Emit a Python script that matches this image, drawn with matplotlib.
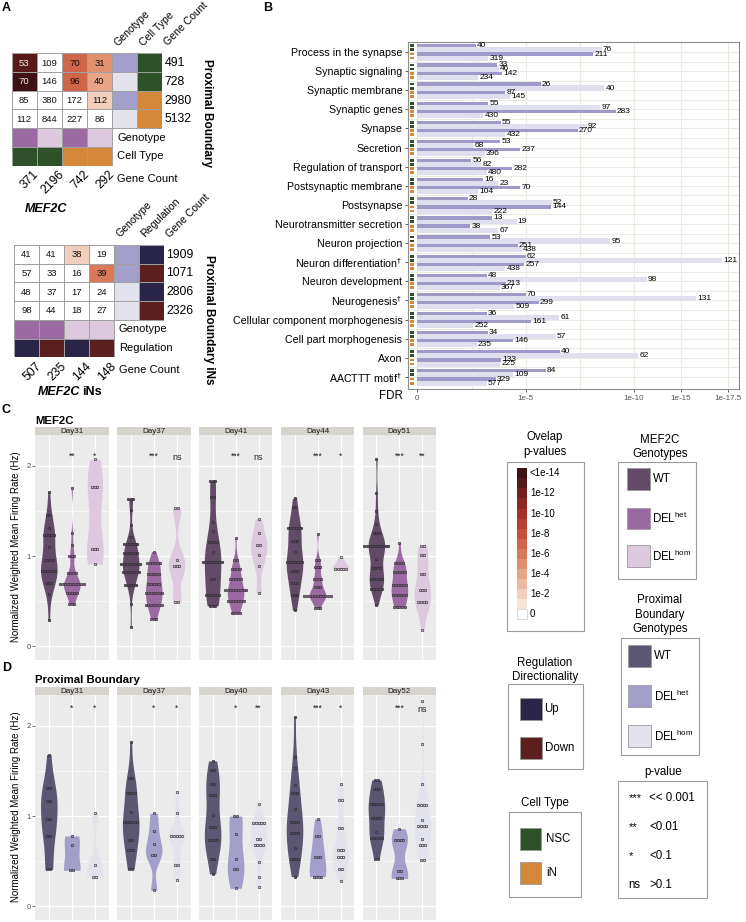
import numpy as np
import matplotlib
matplotlib.use('Agg')
import matplotlib.pyplot as plt
from matplotlib.patches import Rectangle
from matplotlib.colors import ListedColormap, BoundaryNorm
import matplotlib.transforms as mtrans

plt.rcParams['font.family'] = ['Liberation Sans', 'DejaVu Sans']

# ---------------- DATA ----------------
# Panel A (top): MEF2C (columns) vs Proximal Boundary (rows)
A1_counts = [[53, 109, 70, 31], [70, 146, 96, 40], [85, 380, 172, 112], [112, 844, 227, 86]]
A1_logp = [[13.2, 0, 7.1, 5.0], [14.5, 0, 6.8, 4.4], [0, 0, 0, 1.8], [0, 0, 0, 0]]
A1_row_geno = ['het', 'hom', 'het', 'hom']
A1_row_cell = ['NSC', 'NSC', 'iN', 'iN']
A1_row_genes = [491, 728, 2980, 5132]
A1_col_geno = ['het', 'hom', 'het', 'hom']
A1_col_cell = ['NSC', 'NSC', 'iN', 'iN']
A1_col_genes = [371, 2196, 742, 292]

# Panel A (bottom): MEF2C iNs vs Proximal Boundary iNs
A2_counts = [[41, 41, 38, 19], [57, 33, 16, 39], [48, 37, 17, 24], [98, 44, 18, 27]]
A2_logp = [[0, 0, 1.7, 0], [0, 0, 0, 6.4], [0, 0, 0, 0], [0, 0, 0, 0]]
A2_row_geno = ['het', 'het', 'hom', 'hom']
A2_row_reg = ['Up', 'Down', 'Up', 'Down']
A2_row_genes = [1909, 1071, 2806, 2326]
A2_col_geno = ['het', 'het', 'hom', 'hom']
A2_col_reg = ['Up', 'Down', 'Up', 'Down']
A2_col_genes = [507, 235, 144, 148]

# Panel B: enrichment terms; -log10(FDR) and overlap counts
terms = ['Process in the synapse', 'Synaptic signaling', 'Synaptic membrane', 'Synaptic genes',
         'Synapse', 'Secretion', 'Regulation of transport', 'Postsynaptic membrane', 'Postsynapse',
         'Neurotransmitter secretion', 'Neuron projection', r'Neuron differentiation$^{\dagger}$',
         'Neuron development', r'Neurogenesis$^{\dagger}$', 'Cellular component morphogenesis',
         'Cell part morphogenesis', 'Axon', r'AACTTT motif$^{\dagger}$']
nsc_het_fdr = [2.71, 3.69, 5.69, 3.27, 3.85, 3.82, 2.48, 3.02, 2.32, 3.46, 3.35, 5.0, 3.2, 5.0, 3.2, 3.24, 6.58, 5.92]
nsc_hom_fdr = [8.5, 3.77, 8.63, 8.43, 7.81, 2.58, 2.94, 3.74, 6.2, 4.58, 8.89, 17.15, 11.35, 15.8, 6.54, 6.38, 10.46, 4.43]
in_het_fdr = [8.12, 3.89, 4.05, 9.15, 7.4, 4.74, 4.38, 4.74, 6.17, 2.43, 4.63, 4.94, 4.08, 5.6, 5.25, 4.43, 3.86, 3.62]
in_hom_fdr = [3.27, 2.81, 4.28, 3.05, 4.05, 3.12, 3.2, 2.81, 3.46, 3.74, 4.81, 4.05, 3.81, 4.47, 2.58, 2.74, 3.81, 3.2]
nsc_het_n = [40, 33, 26, 55, 55, 53, 56, 16, 28, 13, 53, 62, 48, 70, 36, 34, 40, 84]
nsc_hom_n = [76, 46, 40, 97, 92, 68, 82, 23, 52, 19, 95, 121, 98, 131, 61, 57, 62, 109]
in_het_n = [211, 142, 87, 283, 270, 237, 282, 70, 144, 38, 251, 257, 213, 299, 161, 146, 133, 329]
in_hom_n = [319, 234, 145, 430, 432, 396, 480, 104, 222, 67, 438, 438, 367, 509, 252, 235, 225, 577]
fdr_ticks = [0, 5, 10, 15, 17.5]
fdr_ticklabels = ['0', '1e-5', '1e-10', '1e-15', '1e-17.5']

# Panel C: MEF2C firing rate (value, number of dots in bin)
mef_days = ['Day31', 'Day37', 'Day41', 'Day44', 'Day51']
mef_wt = [
    [(1.71, 1), (1.45, 2), (1.31, 1), (1.23, 5), (1.10, 1), (0.96, 4), (0.83, 6), (0.70, 3), (0.58, 1), (0.29, 1)],
    [(1.63, 3), (1.51, 1), (1.34, 1), (1.21, 1), (1.13, 6), (1.03, 6), (0.91, 8), (0.82, 7), (0.68, 5), (0.47, 1), (0.22, 1)],
    [(1.83, 3), (1.65, 2), (1.38, 1), (1.28, 1), (1.16, 4), (1.05, 1), (0.93, 8), (0.75, 2), (0.57, 6), (0.45, 3)],
    [(1.64, 1), (1.54, 2), (1.31, 6), (1.17, 3), (1.04, 1), (0.94, 7), (0.83, 3), (0.70, 3), (0.57, 3), (0.40, 1)],
    [(2.07, 1), (1.70, 1), (1.50, 1), (1.36, 1), (1.25, 3), (1.11, 10), (0.97, 1), (0.87, 4), (0.75, 5), (0.64, 5), (0.46, 1)],
]
mef_het = [
    [(1.75, 1), (1.25, 1), (1.12, 1), (1.00, 3), (0.81, 4), (0.69, 10), (0.59, 5), (0.47, 3)],
    [(1.05, 1), (0.92, 6), (0.80, 5), (0.69, 5), (0.59, 7), (0.46, 7), (0.30, 3)],
    [(1.20, 1), (0.96, 2), (0.86, 4), (0.75, 5), (0.62, 9), (0.50, 7), (0.37, 4)],
    [(1.24, 1), (0.96, 2), (0.88, 3), (0.75, 4), (0.66, 3), (0.56, 11), (0.43, 3)],
    [(1.15, 1), (0.92, 4), (0.82, 5), (0.68, 6), (0.57, 6), (0.44, 5)],
]
mef_hom = [
    [(2.07, 1), (1.76, 3), (1.08, 3), (0.91, 1)],
    [(1.53, 2), (0.96, 1), (0.89, 3), (0.49, 2)],
    [(1.41, 1), (1.25, 1), (1.12, 2), (1.01, 1), (0.89, 1), (0.59, 1)],
    [(0.99, 1), (0.86, 5)],
    [(1.11, 2), (1.01, 2), (0.80, 2), (0.62, 3), (0.49, 4), (0.18, 1)],
]
mef_sig = [['**', '*'], ['***', 'ns'], ['***', 'ns'], ['***', '*'], ['***', '**']]

# Panel D: Proximal Boundary firing rate
pb_days = ['Day31', 'Day37', 'Day40', 'Day43', 'Day52']
pb_wt = [
    [(1.68, 1), (1.31, 2), (1.17, 2), (0.97, 2), (0.78, 2), (0.41, 2)],
    [(1.82, 1), (1.42, 2), (1.26, 4), (1.04, 1), (0.93, 6), (0.74, 2), (0.63, 3), (0.41, 2)],
    [(1.61, 1), (1.51, 2), (1.36, 2), (1.23, 3), (1.01, 1), (0.88, 3), (0.73, 4), (0.53, 2), (0.36, 1)],
    [(2.10, 1), (1.65, 1), (1.53, 1), (1.34, 1), (1.26, 3), (1.08, 1), (0.94, 4), (0.81, 4), (0.65, 1), (0.53, 4), (0.33, 1)],
    [(1.40, 2), (1.30, 3), (1.13, 5), (0.98, 4), (0.82, 1), (0.76, 5), (0.53, 2)],
]
pb_het = [
    [(0.78, 1), (0.68, 1), (0.40, 2)],
    [(1.03, 1), (0.84, 1), (0.69, 1), (0.57, 2), (0.18, 1)],
    [(1.00, 2), (0.80, 1), (0.52, 1), (0.41, 2), (0.20, 1)],
    [(0.97, 1), (0.78, 2), (0.55, 3), (0.33, 4)],
    [(0.86, 1), (0.73, 4), (0.39, 2), (0.31, 3)],
]
pb_hom = [
    [(1.03, 1), (0.46, 1), (0.33, 2)],
    [(1.27, 1), (1.03, 1), (0.78, 5), (0.46, 2), (0.29, 1)],
    [(1.13, 1), (0.92, 5), (0.75, 2), (0.68, 4), (0.49, 1), (0.33, 1), (0.22, 1)],
    [(1.36, 1), (1.18, 2), (0.87, 2), (0.63, 3), (0.55, 3), (0.41, 2), (0.28, 1)],
    [(2.27, 1), (1.80, 1), (1.36, 1), (1.12, 4), (0.96, 1), (0.89, 4), (0.75, 1), (0.68, 3), (0.51, 2)],
]
pb_sig = [['*', '*'], ['*', '*'], ['*', '**'], ['***', '*'], ['***', 'ns']]

pval_levels = [14, 12, 10, 8, 6, 4, 2, 0]
pval_labels = ['<1e-14', '1e-12', '1e-10', '1e-8', '1e-6', '1e-4', '1e-2', '0']
pvalue_key = [('***', '<< 0.001'), ('**', '<0.01'), ('*', '<0.1'), ('ns', '>0.1')]

# ---------------- STYLE ----------------
MEF_COL = {'WT': '#614b67', 'het': '#9c6aa2', 'hom': '#dcc9de'}
PB_COL = {'WT': '#5c5673', 'het': '#a29fcb', 'hom': '#e3e3ee'}
CELL_COL = {'NSC': '#2f5129', 'iN': '#d5883a'}
REG_COL = {'Up': '#282548', 'Down': '#5b1f1f'}
pcols = ['#ffffff', '#f6e3d8', '#f1cfbc', '#ecbaa1', '#e7a487', '#e08f6f', '#d87a5a', '#cf6549',
         '#c4513b', '#b73f31', '#a4312a', '#8c2824', '#72201f', '#58191a', '#3e1214']
pcmap = ListedColormap(pcols)
pnorm = BoundaryNorm(np.arange(-0.5, 15.5, 1), 15)

W, H = 746, 922
fig = plt.figure(figsize=(W / 100, H / 100), dpi=100)


def axpx(x0, y0, x1, y1):
    return fig.add_axes([x0 / W, 1 - y1 / H, (x1 - x0) / W, (y1 - y0) / H])


ov = axpx(0, 0, W, H)
ov.set_xlim(0, W)
ov.set_ylim(H, 0)
ov.axis('off')

# ---------------- PANEL A ----------------
EC = '#a0a0a0'


def heatmap(ax, counts, logp, rgeno, rann, rgenes, cgeno, cann, cgenes, ann_col, ann_name, side_title, side_y):
    ax.set_xlim(0, 6)
    ax.set_ylim(6, 0)
    ax.axis('off')
    ax.pcolormesh(np.arange(5), np.arange(5), np.array(logp, float), cmap=pcmap, norm=pnorm,
                  edgecolors=EC, linewidth=0.7)
    for i in range(4):
        for j in range(4):
            ax.text(j + 0.5, i + 0.52, str(counts[i][j]), ha='center', va='center', fontsize=6.8,
                    color='#f3e9e9' if logp[i][j] >= 11 else '#111111')
        ax.add_patch(Rectangle((4, i), 1, 1, fc=PB_COL[rgeno[i]], ec=EC, lw=0.7))
        ax.add_patch(Rectangle((5, i), 1, 1, fc=ann_col[rann[i]], ec=EC, lw=0.7))
        ax.text(6.08, i + 0.52, str(rgenes[i]), ha='left', va='center', fontsize=8.8)
    for j in range(4):
        ax.add_patch(Rectangle((j, 4), 1, 1, fc=MEF_COL[cgeno[j]], ec=EC, lw=0.7))
        ax.add_patch(Rectangle((j, 5), 1, 1, fc=ann_col[cann[j]], ec=EC, lw=0.7))
        ax.text(j + 0.85, 6.15, str(cgenes[j]), rotation=45, rotation_mode='anchor',
                ha='right', va='top', fontsize=8.8)
    for j, lab in enumerate(['Genotype', ann_name, 'Gene Count']):
        ax.text(4.3 + j, -0.3, lab, rotation=45, rotation_mode='anchor', ha='left', va='bottom', fontsize=7.6)
    for r, lab in zip([4.5, 5.5, 6.7], ['Genotype', ann_name, 'Gene Count']):
        ax.text(4.2, r, lab, ha='left', va='center', fontsize=8)
    ax.text(7.8, side_y, side_title, rotation=270, ha='center', va='center', fontsize=8.5, fontweight='bold')


axA1 = axpx(11.7, 53.3, 162.3, 165.7)
heatmap(axA1, A1_counts, A1_logp, A1_row_geno, A1_row_cell, A1_row_genes, A1_col_geno, A1_col_cell,
        A1_col_genes, CELL_COL, 'Cell Type', 'Proximal Boundary', 3.2)
axA2 = axpx(14, 245, 164, 357.3)
heatmap(axA2, A2_counts, A2_logp, A2_row_geno, A2_row_reg, A2_row_genes, A2_col_geno, A2_col_reg,
        A2_col_genes, REG_COL, 'Regulation', 'Proximal Boundary iNs', 4.0)

ov.text(2, 8, 'A', fontsize=9, fontweight='bold', va='center')
ov.text(25, 209, 'MEF2C', fontsize=9, fontweight='bold', fontstyle='italic', va='center')
ov.text(38, 392, 'MEF2C', fontsize=9, fontweight='bold', fontstyle='italic', va='center')
ov.text(82, 392, 'iNs', fontsize=9, fontweight='bold', va='center')

# ---------------- PANEL B ----------------
axB = axpx(408, 42, 739, 389)
kx = [-5, 0, 5, 10, 15, 17.5, 25]
ku = [-1, 0, 1, 2, 2.434, 2.87, 4.178]
axB.set_xscale('function', functions=(lambda x: np.interp(x, kx, ku), lambda u: np.interp(u, ku, kx)))
axB.set_xlim(-0.43, 18.06)
axB.set_ylim(17.63, -0.52)
ypos = np.arange(len(terms))
offs = [-0.32, -0.11, 0.11, 0.32]
series = [(nsc_het_fdr, nsc_het_n, 'dark'), (nsc_hom_fdr, nsc_hom_n, 'light'),
          (in_het_fdr, in_het_n, 'dark'), (in_hom_fdr, in_hom_n, 'light')]
lab_tr = mtrans.offset_copy(axB.transData, fig=fig, x=1.2, y=0, units='dots')
for k, (vals, ns, kind) in enumerate(series):
    if kind == 'light':
        axB.barh(ypos + offs[k], vals, height=0.27, color='#e0dfed', zorder=2)
    else:
        axB.barh(ypos + offs[k], vals, height=0.17, color='#9e9bc8', zorder=3)
    for y, v, n in zip(ypos + offs[k], vals, ns):
        axB.text(v, y, str(n), transform=lab_tr, fontsize=6, va='center', ha='left', zorder=4)
sq_tr = mtrans.blended_transform_factory(axB.transAxes, axB.transData)
sq_cols = [CELL_COL['NSC'], CELL_COL['NSC'], CELL_COL['iN'], CELL_COL['iN']]
for y in ypos:
    for k in range(4):
        axB.add_patch(Rectangle((0.006, y + offs[k] - 0.075), 0.013, 0.15, transform=sq_tr,
                                fc=sq_cols[k], ec='none', zorder=4))
axB.set_yticks(ypos)
axB.set_yticklabels(terms, fontsize=7.7)
axB.set_yticks(ypos[:-1] + 0.5, minor=True)
axB.set_xticks(fdr_ticks)
axB.set_xticklabels(fdr_ticklabels, fontsize=5.8, color='#555555')
axB.set_xticks([2.5, 7.5], minor=True)
axB.tick_params(axis='y', which='major', length=2.5, width=0.6, pad=1.5, color='#444444')
axB.tick_params(axis='x', which='major', length=2, width=0.6, pad=2, color='#444444')
axB.tick_params(which='minor', length=0)
axB.grid(True, which='both', color='#ece9e2', lw=0.8)
axB.set_axisbelow(True)
for s in axB.spines.values():
    s.set_color('#8c8c8c')
    s.set_linewidth(0.8)
ov.text(263, 8, 'B', fontsize=9, fontweight='bold', va='center')
ov.text(403, 396, 'FDR', fontsize=8.3, ha='right', va='center')

# ---------------- PANELS C / D ----------------


def kde(vals, grid):
    v = np.asarray(vals, float)
    n = len(v)
    sd = v.std(ddof=1) if n > 1 else 0.1
    q75, q25 = np.percentile(v, [75, 25])
    lo = min(sd, (q75 - q25) / 1.34) if q75 > q25 else sd
    bw = max(0.9 * lo * n ** -0.2, 0.06)
    return np.exp(-0.5 * ((grid[:, None] - v[None, :]) / bw) ** 2).sum(1)


def violin_panel(top, bottom, days, wt, het, hom, cols, sig, sig_y):
    x0s = [35 + k * 81.9 for k in range(5)]
    fw = 73.6
    for k in range(5):
        ax = axpx(x0s[k], top, x0s[k] + fw, bottom)
        ax.set_facecolor('#ebebeb')
        ax.set_xlim(0.4, 3.6)
        ax.set_ylim(-0.15, 2.34)
        for s in ax.spines.values():
            s.set_visible(False)
        ax.set_xticks([1, 2, 3])
        ax.set_xticklabels([])
        ax.tick_params(axis='x', length=0)
        ax.set_yticks([0, 1, 2])
        ax.set_yticks([0.5, 1.5], minor=True)
        ax.grid(True, which='major', color='white', lw=0.9)
        ax.grid(True, which='minor', axis='y', color='white', lw=0.45)
        ax.set_axisbelow(True)
        ax.tick_params(which='minor', length=0)
        if k == 0:
            ax.set_yticklabels(['0', '1', '2'], fontsize=5.5, color='#4d4d4d')
            ax.tick_params(axis='y', which='major', length=2, width=0.5, color='#333333', pad=1)
        else:
            ax.tick_params(axis='y', which='major', length=0, labelleft=False)
        for g, (bins, key) in enumerate(zip([wt[k], het[k], hom[k]], ['WT', 'het', 'hom'])):
            pos = g + 1
            c = cols[key]
            vals = np.repeat([b[0] for b in bins], [b[1] for b in bins])
            grid = np.linspace(vals.min(), vals.max(), 200)
            d = kde(vals, grid)
            hw = 0.36 * d / d.max()
            ax.fill_betweenx(grid, pos - hw, pos + hw, color=c, lw=0, zorder=2)
            for v, n in bins:
                xs = pos + (np.arange(n) - (n - 1) / 2) * 0.115
                ax.scatter(xs, [v] * n, s=3.2, facecolor=c, edgecolor='#2b2b2b', lw=0.45, zorder=3)
        for g, s in enumerate(sig[k]):
            if s == 'ns':
                ax.text(g + 2, sig_y - 0.04, s, ha='center', va='center', fontsize=6.5, color='#222222')
            else:
                ax.text(g + 2, sig_y - 0.03, s, ha='center', va='center', fontsize=6.2, color='#222222')
        sax = axpx(x0s[k], top - 7.7, x0s[k] + fw, top)
        sax.set_facecolor('#d7d3cd')
        sax.set_xticks([])
        sax.set_yticks([])
        for s in sax.spines.values():
            s.set_visible(False)
        sax.text(0.5, 0.45, days[k], ha='center', va='center', fontsize=5.8, color='#1a1a1a',
                 transform=sax.transAxes)


violin_panel(435, 660, mef_days, mef_wt, mef_het, mef_hom, MEF_COL, mef_sig, 2.13)
violin_panel(695, 920, pb_days, pb_wt, pb_het, pb_hom, PB_COL, pb_sig, 2.22)

ov.text(2, 410, 'C', fontsize=9, fontweight='bold', va='center')
ov.text(35, 421, 'MEF2C', fontsize=8.2, fontweight='bold', va='center')
ov.text(2, 668, 'D', fontsize=9, fontweight='bold', va='center')
ov.text(35, 680, 'Proximal Boundary', fontsize=8.2, fontweight='bold', va='center')
ov.text(16, 547, 'Normalized Weighted Mean Firing Rate (Hz)', rotation=90, fontsize=7, ha='center', va='center')
ov.text(16, 807, 'Normalized Weighted Mean Firing Rate (Hz)', rotation=90, fontsize=7, ha='center', va='center')

# ---------------- LEGENDS ----------------
BOXC = '#9a9a9a'


def box(x0, y0, x1, y1):
    ov.add_patch(Rectangle((x0, y0), x1 - x0, y1 - y0, fill=False, ec=BOXC, lw=0.8))


# Overlap p-values
ov.text(545, 437, 'Ovelap', ha='center', va='center', fontsize=8.3)
ov.text(545, 452, 'p-values', ha='center', va='center', fontsize=8.3)
box(507.3, 461.7, 584.3, 630.7)
for lv in range(15):
    y = 468.3 + (14 - lv) * 10.05
    ov.add_patch(Rectangle((516.7, y), 10, 10.05, fc=pcmap(pnorm(lv)), ec='none'))
ov.add_patch(Rectangle((516.7, 609), 10, 10.05, fill=False, ec='#cccccc', lw=0.5))
for lv, lab in zip(pval_levels, pval_labels):
    ov.text(530, 468.3 + (14 - lv + 0.5) * 10.05, lab, ha='left', va='center', fontsize=7)

# MEF2C genotypes
ov.text(660, 440, 'MEF2C', ha='center', va='center', fontsize=8.3)
ov.text(660, 454, 'Genotypes', ha='center', va='center', fontsize=8.3)
box(618.3, 462.3, 695.7, 579)
for y, key, lab in zip([468.3, 507.7, 545.3], ['WT', 'het', 'hom'],
                       ['WT', r'DEL$^{\mathregular{het}}$', r'DEL$^{\mathregular{hom}}$']):
    ov.add_patch(Rectangle((627, y), 22.5, 21.5, fc=MEF_COL[key], ec='#9a9a9a', lw=0.6))
    ov.text(652.5, y + 11, lab, ha='left', va='center', fontsize=8.3)

# Proximal boundary genotypes
ov.text(660, 600, 'Proximal', ha='center', va='center', fontsize=8.3)
ov.text(660, 614.5, 'Boundary', ha='center', va='center', fontsize=8.3)
ov.text(660, 629, 'Genotypes', ha='center', va='center', fontsize=8.3)
box(620.7, 638.3, 699, 755)
for y, key, lab in zip([645, 685, 725], ['WT', 'het', 'hom'],
                       ['WT', r'DEL$^{\mathregular{het}}$', r'DEL$^{\mathregular{hom}}$']):
    ov.add_patch(Rectangle((628.3, y), 22.4, 22.3, fc=PB_COL[key], ec='#9a9a9a', lw=0.6))
    ov.text(654, y + 11, lab, ha='left', va='center', fontsize=8.3)

# Regulation directionality
ov.text(545, 662.7, 'Regulation', ha='center', va='center', fontsize=8.3)
ov.text(545, 676.7, 'Directionality', ha='center', va='center', fontsize=8.3)
box(507.7, 684, 583.3, 769.3)
for y, key in zip([698.3, 737.3], ['Up', 'Down']):
    ov.add_patch(Rectangle((520, y), 22.3, 21.8, fc=REG_COL[key], ec='#9a9a9a', lw=0.6))
    ov.text(544.5, y + 11, key, ha='left', va='center', fontsize=8.3)

# Cell type
ov.text(545, 803.3, 'Cell Type', ha='center', va='center', fontsize=8.3)
box(509.3, 811.7, 581, 897.3)
for y, key in zip([827.7, 861.5], ['NSC', 'iN']):
    ov.add_patch(Rectangle((519.7, y), 21.3, 22.5, fc=CELL_COL[key], ec='#9a9a9a', lw=0.6))
    ov.text(546, y + 11.5, key, ha='left', va='center', fontsize=8.3)

# p-value key
ov.text(663, 771.7, 'p-value', ha='center', va='center', fontsize=8.3)
box(618.3, 780.7, 706.7, 898.3)
for y, (sym, txt) in zip([798.3, 827.3, 856, 885], pvalue_key):
    if sym == 'ns':
        ov.text(628.7, y, sym, ha='left', va='center', fontsize=8.3)
    else:
        ov.text(628.7, y, sym, ha='left', va='center', fontsize=8)
    ov.text(649.3, y, txt, ha='left', va='center', fontsize=8.3)

fig.savefig('out.png', dpi=100, facecolor='white')
